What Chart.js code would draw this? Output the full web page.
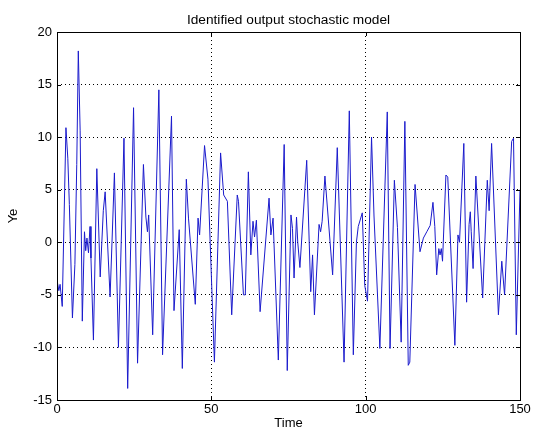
<!DOCTYPE html>
<html>
<head>
<meta charset="utf-8">
<script src="https://cdn.jsdelivr.net/npm/chart.js@4.4.0/dist/chart.umd.min.js"></script>
<style>
  html, body { margin: 0; padding: 0; background: #fff; }
  #wrap { width: 534px; height: 431px; }
</style>
</head>
<body>
<div id="wrap"><canvas id="js--chart"></canvas></div>
<script>
// values (turning points of the trace)
const times = [
  0, 0.6, 1.0, 1.7, 2.9, 3.5, 4.0, 5.0, 5.8, 6.4, 6.9, 7.5, 8.2, 8.9, 9.3, 9.7,
  10.2, 10.7, 11.0, 11.8, 12.9, 14.0, 15.0, 15.6, 17.2, 18.6, 19.9, 21.7, 22.9,
  24.8, 26.1, 28.0, 28.8, 29.3, 29.7, 31.0, 33.0, 34.2, 37.1, 37.9, 39.6, 40.6,
  41.9, 42.6, 44.8, 45.7, 46.2, 47.8, 48.9, 51.0, 53.0, 54.0, 55.2, 56.6, 58.4,
  58.8, 60.4, 61.0, 62.0, 62.8, 63.5, 64.0, 64.6, 65.8, 68.7, 69.3, 70.0, 71.7,
  73.6, 74.6, 75.8, 76.3, 76.8, 77.6, 78.0, 78.7, 80.9, 82.2, 82.8, 83.4, 84.9,
  85.4, 85.9, 86.8, 89.3, 90.8, 93.0, 94.7, 96.0, 97.0, 97.6, 98.9, 99.7, 100.6,
  101.9, 102.7, 104.6, 107.0, 107.9, 109.3, 110.3, 111.5, 112.7, 113.8, 114.3,
  116.0, 117.6, 118.7, 119.8, 120.9, 121.8, 122.4, 123.0, 123.7, 124.1, 124.5,
  124.9, 126.0, 126.6, 128.9, 129.9, 130.4, 131.8, 132.7, 133.5, 133.9, 134.2,
  134.8, 135.7, 137.9, 139.4, 140.0, 140.8, 143.0, 144.1, 145.0, 147.3, 147.9,
  148.8, 150.0
];
const ye = [
  -3.6, -4.6, -4.0, -6.1, 10.9, 8.0, 3.6, -7.2, -2.1, 7.4, 18.2, 10.6, -7.5, 1.0, -0.8, 0.4,
  -1.0, 1.5, -1.5, -9.3, 7.0, -3.3, 3.0, 4.8, -5.2, 6.6, -10.0, 9.9, -13.9,
  12.8, -11.5, 7.4, 2.4, 1.0, 2.6, -8.8, 14.5, -10.7, 12.0, -6.5, 1.2, -12.0,
  6.0, 2.3, -5.9, 2.3, 0.7, 9.2, 6.0, -11.4, 8.5, 4.5, 3.9, -6.9, 4.5,
  3.9, -5.0, -5.0, 6.7, -1.2, 2.0, 0.5, 2.1, -6.6, 4.2, 0.7, 2.3, -11.2,
  9.3, -12.2, 2.6, 1.3, -3.4, 2.4, 0.0, -2.4, 7.8, -4.7, -1.2, -6.9, 1.7,
  1.0, 2.0, 6.3, -3.1, 9.0, -11.4, 12.5, -10.7, 0.0, 1.5, 2.8, -4.1, -5.6,
  10.0, 2.5, -10.1, 12.4, -10.1, 5.9, 1.4, -9.5, 11.5, -11.7, -11.4,
  5.5, -0.9, 0.4, 1.0, 1.6, 3.8, 1.5, -3.1, -0.6, -1.2, -0.6,
  -1.8, 6.4, 6.2, -9.8, 0.7, 0.0, 9.4, -5.7, 1.7, 2.9, 1.0,
  -2.5, 6.3, -5.3, 5.9, 3.0, 9.4, -6.9, -1.8, -5.0, 9.6, 9.9,
  -8.8, 5.0
];
const xTicks = [0, 50, 100, 150];
const yTicks = [-15, -10, -5, 0, 5, 10, 15, 20];
const chartTitle = "Identified output stochastic model";

const fontFam = "'Liberation Sans', Arial, sans-serif";

// box round the axes, MATLAB style inward ticks, title centred over the axes
const boxPlugin = {
  id: "box",
  afterDraw(chart) {
    const ctx = chart.ctx;
    const a = chart.chartArea;
    const xs = chart.scales.x;
    const ys = chart.scales.y;
    ctx.save();
    ctx.setLineDash([]);
    ctx.strokeStyle = "#000";
    ctx.lineWidth = 1;
    ctx.strokeRect(Math.round(a.left) + 0.5, Math.round(a.top) + 0.5,
      Math.round(a.right - a.left), Math.round(a.bottom - a.top));
    ctx.beginPath();
    xTicks.forEach((v) => {
      const px = Math.round(xs.getPixelForValue(v)) + 0.5;
      ctx.moveTo(px, a.bottom); ctx.lineTo(px, a.bottom - 4);
      ctx.moveTo(px, a.top); ctx.lineTo(px, a.top + 4);
    });
    yTicks.forEach((v) => {
      const py = Math.round(ys.getPixelForValue(v)) + 0.5;
      ctx.moveTo(a.left, py); ctx.lineTo(a.left + 4, py);
      ctx.moveTo(a.right, py); ctx.lineTo(a.right - 4, py);
    });
    ctx.stroke();

    ctx.fillStyle = "#000";
    ctx.font = "13.7px " + fontFam;
    ctx.textAlign = "center";
    ctx.textBaseline = "middle";
    ctx.fillText(chartTitle, (a.left + a.right) / 2, 20);
    ctx.restore();
  },
};

const data = {
  datasets: [
    {
      label: "Ye",
      data: times.map((t, i) => ({ x: t, y: ye[i] })),
      borderColor: "#1a1acc",
      borderWidth: 1,
      pointRadius: 0,
      tension: 0,
      fill: false,
    },
  ],
};

const config = {
  type: "line",
  data: data,
  options: {
    responsive: true,
    maintainAspectRatio: false,
    animation: false,
    events: [],
    layout: { padding: { left: 0, right: 14, top: 32, bottom: 0 } },
    plugins: {
      legend: { display: false },
      tooltip: { enabled: false },
      title: { display: false },
    },
    scales: {
      x: {
        type: "linear",
        min: 0,
        max: 150,
        afterBuildTicks: (s) => { s.ticks = xTicks.map((v) => ({ value: v })); },
        afterFit: (s) => { s.height = 31; },
        ticks: { color: "#000", font: { family: fontFam, size: 13 }, padding: 2, maxRotation: 0 },
        grid: { color: "#000", drawTicks: false, lineWidth: 1 },
        border: { display: false, dash: [1, 3] },
        title: {
          display: true,
          text: "Time",
          color: "#000",
          font: { family: fontFam, size: 13 },
          padding: { top: 0, bottom: 0 },
        },
      },
      y: {
        min: -15,
        max: 20,
        afterBuildTicks: (s) => { s.ticks = yTicks.map((v) => ({ value: v })); },
        afterFit: (s) => { s.width = 57; },
        ticks: { color: "#000", font: { family: fontFam, size: 13 }, padding: 5 },
        grid: { color: "#000", drawTicks: false, lineWidth: 1 },
        border: { display: false, dash: [1, 3] },
        title: {
          display: true,
          text: "Ye",
          color: "#000",
          font: { family: fontFam, size: 13 },
          padding: { top: 6, bottom: 0 },
        },
      },
    },
  },
  plugins: [boxPlugin],
};

new Chart(document.getElementById("js--chart"), config);
</script>
</body>
</html>
